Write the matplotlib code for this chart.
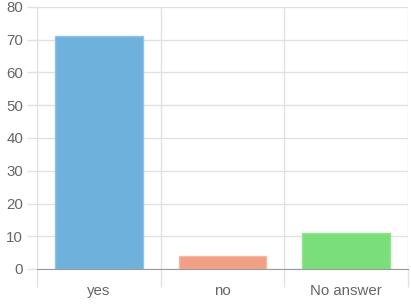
import matplotlib.pyplot as plt
import numpy as np

categories = ["yes", "no", "No answer"]
values = [71, 4, 11]
colors = ["#6fb1dd", "#f2a085", "#7ade7a"]
edge_colors = ["#8cc3e8", "#f5b8a2", "#93e593"]
y_ticks = [0, 10, 20, 30, 40, 50, 60, 70, 80]

plt.rcParams['font.family'] = ['Liberation Sans', 'DejaVu Sans']

fig = plt.figure(figsize=(4.11, 3.07), dpi=100)
ax = fig.add_axes([37 / 411, 1 - 269 / 307, 371 / 411, 262 / 307])

x = np.arange(len(categories))
ax.bar(x, values, width=0.71, color=colors, edgecolor=edge_colors, linewidth=1, zorder=3)

ax.set_xlim(-0.5, len(categories) - 0.5)
ax.set_ylim(0, 80)

# category boundaries as grid lines
ax.set_xticks(x)
ax.set_xticklabels(categories)
ax.set_xticks(np.arange(-0.5, len(categories)), minor=True)
ax.set_yticks(y_ticks)

grid_col = "#e1e1e1"
ax.grid(True, which="minor", axis="x", color=grid_col, linewidth=1, zorder=0)
ax.grid(True, which="major", axis="y", color=grid_col, linewidth=1, zorder=0)

ax.tick_params(axis="x", which="major", length=0, pad=11, labelsize=10.8, labelcolor="#666666")
ax.tick_params(axis="x", which="minor", length=13, color=grid_col, width=1)
ax.tick_params(axis="y", length=7, color=grid_col, width=1, pad=3, labelsize=10.8, labelcolor="#666666")

for side in ["top", "right"]:
    ax.spines[side].set_visible(False)
ax.spines["left"].set_color(grid_col)
ax.spines["bottom"].set_color("#9a9a9a")
ax.spines["bottom"].set_zorder(4)

fig.savefig("out.png", dpi=100)
